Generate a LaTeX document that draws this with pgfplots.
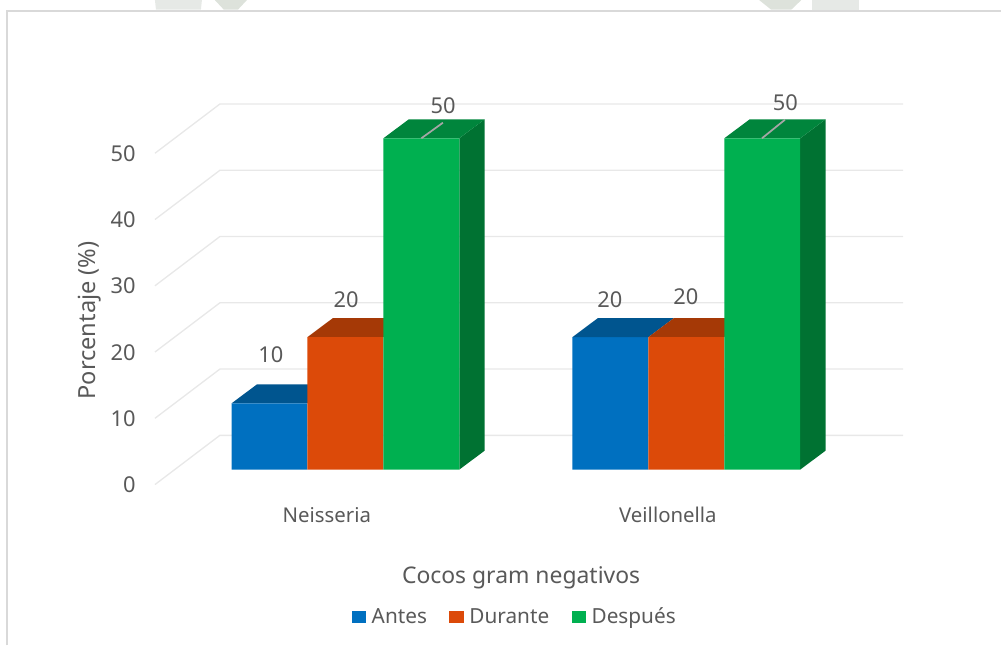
\documentclass[border=0pt]{standalone}
\usepackage{fontspec}
\setmainfont{Noto Sans}
\usepackage{pgfplots}
\pgfplotsset{compat=1.18}

\definecolor{txt}{HTML}{595959}
\definecolor{gridc}{HTML}{E8E8E8}
\definecolor{framec}{HTML}{D9D9D9}
\definecolor{leader}{HTML}{A6A6A6}
\definecolor{blueF}{HTML}{0070C0}
\definecolor{blueT}{HTML}{00558F}
\definecolor{orangeF}{HTML}{DC4A09}
\definecolor{orangeT}{HTML}{A53906}
\definecolor{greenF}{HTML}{00B050}
\definecolor{greenT}{HTML}{00853C}
\definecolor{greenS}{HTML}{007232}
\definecolor{fadeA}{HTML}{E6E9E6}
\definecolor{fadeB}{HTML}{DDE2DB}

\newcommand{\numfont}{\fontsize{16.4}{19}\selectfont}
\newcommand{\catfont}{\fontsize{15.3}{18}\selectfont}
\newcommand{\legfont}{\fontsize{15.6}{18}\selectfont}
\newcommand{\titlefont}{\fontsize{17.2}{20}\selectfont}

% x runs in picture pixels (0..1002), y in percent; 6.634 px per percent
\pgfplotsset{
    frontbar/.style={ybar, bar width=57pt, bar shift=0pt, draw=none, fill=#1,
        legend image code/.code={\fill[#1] (0pt,-4.6pt) rectangle (10.6pt,4.6pt); \path (13pt,0pt);}},
    face/.style={draw=none, fill=#1, forget plot},
    wall/.style={draw=gridc, line width=1pt, forget plot},
    lead/.style={draw=leader, line width=1.3pt, forget plot},
}

\begin{document}
\begin{tikzpicture}
\begin{axis}[
    scale only axis,
    width=751.5pt, height=484.5pt,
    xmin=0, xmax=1002,
    ymin=-26.53, ymax=70.85,
    axis line style={draw=none},
    major tick length=0pt,
    clip=false,
    /pgf/number format/assume math mode=true,
    xtick={327,668.5},
    xticklabels={Neisseria,Veillonella},
    ytick={0,10,20,30,40,50},
    yticklabel style={font=\numfont, text=txt, anchor=east, xshift=105.2pt, yshift=-11.4pt},
    xticklabel style={font=\catfont, text=txt, anchor=center, yshift=98pt},
    xlabel={Cocos gram negativos},
    ylabel={Porcentaje (\%)},
    every axis x label/.style={at={(rel axis cs:0.5205,0.1053)}, anchor=center, font=\titlefont, text=txt},
    every axis y label/.style={at={(rel axis cs:0.0895,0.5035)}, anchor=center, rotate=90, font=\fontsize{17.7}{20}\selectfont, text=txt},
    legend columns=3,
    legend style={draw=none, fill=none, at={(rel axis cs:0.5145,0.044)}, anchor=center,
        font=\legfont, text=txt,
        /tikz/every even column/.style={column sep=14.8pt}},
]

% frame and faded page background along the top
\addplot[draw=framec, line width=1.5pt, forget plot] coordinates {(7,-26.53) (7,69.19) (1002,69.19)};
\addplot[face=fadeA] coordinates {(155,70.85) (202,70.85) (201,69.4) (156,69.4)};
\addplot[face=fadeB] coordinates {(215,70.85) (247,70.85) (238,69.4) (224,69.4)};
\addplot[face=fadeB] coordinates {(760,70.85) (802,70.85) (792,69.4) (772,69.4)};
\addplot[face=fadeA] coordinates {(813,70.85) (860,70.85) (860,69.4) (813,69.4)};

% back wall lines
\addplot[wall] coordinates {(155,-2.26) (220,5.17) (904,5.17)};
\addplot[wall] coordinates {(155,7.74) (220,15.17) (904,15.17)};
\addplot[wall] coordinates {(155,17.74) (220,25.17) (904,25.17)};
\addplot[wall] coordinates {(155,27.74) (220,35.17) (904,35.17)};
\addplot[wall] coordinates {(155,37.74) (220,45.17) (904,45.17)};
\addplot[wall] coordinates {(155,47.74) (220,55.17) (904,55.17)};

% Neisseria
\addplot[face=blueT] coordinates {(231.7,10) (307.7,10) (333.1,12.86) (257.1,12.86)};
\addplot[frontbar=blueF] coordinates {(269.7,10) (611,20)};
\addlegendentry{Antes}
\addplot[face=orangeT] coordinates {(307.7,20) (383.7,20) (409.1,22.86) (333.1,22.86)};
\addplot[face=blueT] coordinates {(573,20) (649,20) (674.4,22.86) (598.4,22.86)};
\addplot[face=orangeT] coordinates {(649,20) (725,20) (750.4,22.86) (674.4,22.86)};
\addplot[frontbar=orangeF] coordinates {(345.7,20) (687,20)};
\addlegendentry{Durante}
\addplot[face=greenS] coordinates {(459.7,0) (485.1,2.86) (485.1,52.86) (459.7,50)};
\addplot[face=greenT] coordinates {(383.7,50) (459.7,50) (485.1,52.86) (409.1,52.86)};
\addplot[face=greenS] coordinates {(801,0) (826.4,2.86) (826.4,52.86) (801,50)};
\addplot[face=greenT] coordinates {(725,50) (801,50) (826.4,52.86) (750.4,52.86)};
\addplot[frontbar=greenF] coordinates {(421.7,50) (763,50)};
\addlegendentry{Después}

% leader lines of the two 50 labels
\addplot[lead] coordinates {(421.7,50) (443.3,52.35)};
\addplot[lead] coordinates {(762.7,50) (785.7,52.8)};

% value labels
\node[font=\numfont, text=txt] at (axis cs:271,17.4) {10};
\node[font=\numfont, text=txt] at (axis cs:346.5,25.7) {20};
\node[font=\numfont, text=txt] at (axis cs:443.5,54.9) {50};
\node[font=\numfont, text=txt] at (axis cs:610.5,25.7) {20};
\node[font=\numfont, text=txt] at (axis cs:686.5,26.1) {20};
\node[font=\numfont, text=txt] at (axis cs:786,55.3) {50};

\end{axis}
\end{tikzpicture}
\end{document}
